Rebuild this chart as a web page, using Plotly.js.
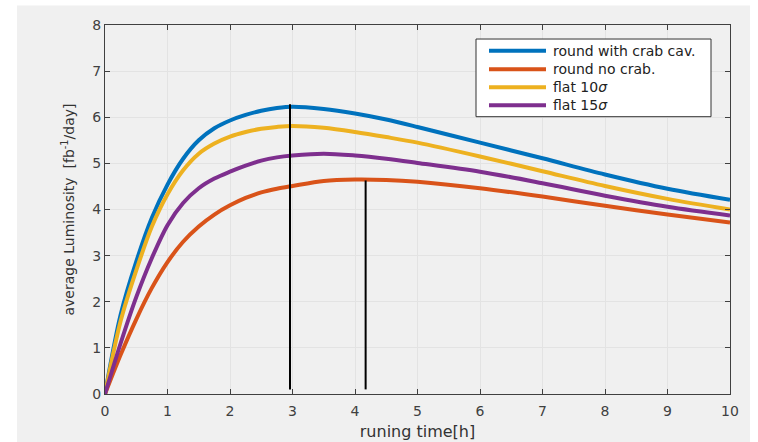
<!DOCTYPE html>
<html>
<head>
<meta charset="utf-8">
<script src="https://cdn.plot.ly/plotly-3.0.1.min.js"></script>
<style>html,body{margin:0;padding:0;background:#fff;}#chart{width:758px;height:442px;}</style>
</head>
<body>
<div id="chart"></div>
<script>
// running time [h]
const timeH = [0, 0.25, 0.5, 0.75, 1, 1.25, 1.5, 1.75, 2, 2.25, 2.5, 2.75, 3, 3.5, 4, 4.5, 5, 6, 7, 8, 9, 10];
// average luminosity [fb^-1/day]
const roundCrab  = [0, 1.72, 2.87, 3.82, 4.54, 5.10, 5.50, 5.76, 5.93, 6.05, 6.14, 6.20, 6.23, 6.18, 6.08, 5.95, 5.79, 5.45, 5.11, 4.76, 4.45, 4.21];
const roundNoCrab= [0, 0.85, 1.62, 2.30, 2.86, 3.30, 3.63, 3.89, 4.09, 4.25, 4.37, 4.45, 4.51, 4.62, 4.65, 4.64, 4.60, 4.46, 4.28, 4.08, 3.89, 3.72];
const flat10     = [0, 1.58, 2.68, 3.63, 4.33, 4.85, 5.21, 5.43, 5.58, 5.68, 5.75, 5.79, 5.81, 5.77, 5.68, 5.57, 5.45, 5.15, 4.83, 4.51, 4.23, 4.00];
const flat15     = [0, 1.10, 2.10, 2.95, 3.66, 4.14, 4.46, 4.67, 4.82, 4.95, 5.06, 5.13, 5.17, 5.21, 5.17, 5.10, 5.01, 4.82, 4.57, 4.30, 4.06, 3.87];
const seriesNames = ['round with crab cav.', 'round no crab.', 'flat 10<i>σ</i>', 'flat 15<i>σ</i>'];
const seriesColors = ['#0072BD', '#D95319', '#EDB120', '#7E2F8E'];
// optimum markers (vertical lines)
const peakX = [2.96, 4.17];
const peakTop = [6.28, 4.63];
const peakBottom = 0.1;

const seriesY = [roundCrab, roundNoCrab, flat10, flat15];
const traces = seriesY.map((ys, i) => ({
  x: timeH, y: ys, type: 'scatter', mode: 'lines', name: seriesNames[i],
  line: {color: seriesColors[i], width: 4, shape: 'spline', smoothing: 0.9},
  showlegend: false, hoverinfo: 'skip'
}));
peakX.forEach((px, i) => traces.push({
  x: [px, px], y: [peakBottom, peakTop[i]], type: 'scatter', mode: 'lines',
  line: {color: '#000', width: 2}, showlegend: false, hoverinfo: 'skip'
}));

const FONT = 'DejaVu Sans, Arial, sans-serif';
const shapes = [
  {type: 'rect', xref: 'paper', yref: 'paper', x0: -0.1408, x1: 1.032, y0: -0.2, y1: 1.0528,
   fillcolor: '#f0f0f0', line: {width: 0}, layer: 'below'},
  {type: 'rect', xref: 'paper', yref: 'paper', x0: 0.5936, x1: 0.9696, y0: 0.7515, y1: 0.962,
   fillcolor: '#fff', line: {color: '#333', width: 1}}
];
const rowsY = [0.9304, 0.88, 0.8312, 0.7824];
const annotations = [];
seriesNames.forEach((n, i) => {
  shapes.push({type: 'line', xref: 'paper', yref: 'paper', x0: 0.6144, x1: 0.7056, y0: rowsY[i], y1: rowsY[i],
    line: {color: seriesColors[i], width: 4}});
  annotations.push({xref: 'paper', yref: 'paper', x: 0.7131, y: rowsY[i], xanchor: 'left', yanchor: 'middle',
    text: n, showarrow: false, font: {family: FONT, size: 14, color: '#222'}});
});

const axisCommon = {
  showgrid: true, gridcolor: '#e3e3e3', gridwidth: 1,
  showline: true, linecolor: '#404040', linewidth: 1, mirror: 'ticks',
  ticks: 'inside', ticklen: 5, tickcolor: '#404040', tickwidth: 1,
  zeroline: false, tickfont: {family: FONT, size: 14, color: '#404040'}
};
const layout = {
  width: 758, height: 442,
  margin: {l: 105, r: 28, t: 25, b: 48},
  paper_bgcolor: '#ffffff', plot_bgcolor: '#ffffff',
  showlegend: false,
  xaxis: Object.assign({}, axisCommon, {range: [0, 10], dtick: 1, tick0: 0, ticklabelstandoff: 4,
    title: {text: 'runing time[h]', font: {family: FONT, size: 16, color: '#333'}, standoff: 8}}),
  yaxis: Object.assign({}, axisCommon, {range: [0, 8], dtick: 1, tick0: 0,
    title: {text: 'average Luminosity  [fb<sup>-1</sup>/day]', font: {family: FONT, size: 14, color: '#333'}, standoff: 14}}),
  shapes: shapes,
  annotations: annotations
};
Plotly.newPlot('chart', traces, layout, {displayModeBar: false, staticPlot: true});
</script>
</body>
</html>
